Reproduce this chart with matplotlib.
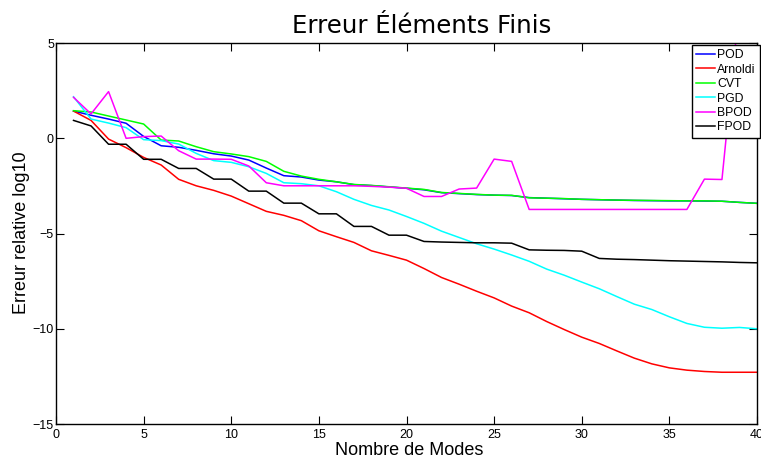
import matplotlib
matplotlib.use("Agg")
import matplotlib.pyplot as plt
import numpy as np

modes = list(range(1, 41))

pod = [1.43, 1.21, 1.01, 0.79, 0.10, -0.39, -0.47, -0.63, -0.81, -0.93,
       -1.14, -1.56, -1.96, -2.03, -2.19, -2.28, -2.43, -2.48, -2.55, -2.62,
       -2.70, -2.85, -2.90, -2.95, -2.98, -3.00, -3.11, -3.14, -3.17, -3.20,
       -3.22, -3.24, -3.26, -3.27, -3.28, -3.28, -3.29, -3.30, -3.36, -3.41]

arnoldi = [1.43, 0.94, -0.04, -0.49, -1.00, -1.40, -2.15, -2.49, -2.73, -3.03,
           -3.43, -3.83, -4.04, -4.32, -4.85, -5.16, -5.46, -5.90, -6.14, -6.39,
           -6.83, -7.30, -7.65, -8.02, -8.37, -8.80, -9.15, -9.61, -10.03, -10.43,
           -10.76, -11.15, -11.53, -11.83, -12.04, -12.16, -12.23, -12.27, -12.27, -12.27]

cvt = [1.45, 1.38, 1.17, 0.96, 0.75, -0.09, -0.14, -0.44, -0.70, -0.82,
       -0.96, -1.21, -1.73, -1.98, -2.15, -2.28, -2.42, -2.47, -2.54, -2.61,
       -2.68, -2.84, -2.89, -2.94, -2.98, -2.99, -3.12, -3.14, -3.16, -3.20,
       -3.22, -3.24, -3.25, -3.26, -3.27, -3.28, -3.28, -3.30, -3.36, -3.41]

pgd = [2.18, 1.01, 0.80, 0.56, -0.07, -0.12, -0.30, -0.79, -1.17, -1.26,
       -1.49, -1.84, -2.33, -2.38, -2.49, -2.80, -3.20, -3.52, -3.76, -4.10,
       -4.46, -4.87, -5.20, -5.53, -5.81, -6.12, -6.45, -6.86, -7.18, -7.54,
       -7.89, -8.30, -8.70, -8.98, -9.36, -9.71, -9.91, -9.96, -9.92, -9.99]

bpod = [2.15, 1.28, 2.45, 0.00, 0.09, 0.12, -0.65, -1.09, -1.09, -1.10,
        -1.45, -2.33, -2.49, -2.49, -2.49, -2.49, -2.49, -2.52, -2.56, -2.62,
        -3.05, -3.05, -2.66, -2.61, -1.09, -1.21, -3.73, -3.73, -3.73, -3.73,
        -3.73, -3.73, -3.73, -3.73, -3.73, -3.73, -2.14, -2.16, 7.0, 7.5]

fpod = [0.94, 0.65, -0.31, -0.31, -1.10, -1.10, -1.58, -1.58, -2.14, -2.14,
        -2.77, -2.77, -3.40, -3.40, -3.96, -3.96, -4.62, -4.62, -5.08, -5.08,
        -5.41, -5.44, -5.46, -5.48, -5.48, -5.50, -5.85, -5.87, -5.88, -5.92,
        -6.30, -6.34, -6.36, -6.39, -6.42, -6.44, -6.46, -6.48, -6.51, -6.53]

series = [("POD", pod, (0, 0, 1)),
          ("Arnoldi", arnoldi, (1, 0, 0)),
          ("CVT", cvt, (0, 1, 0)),
          ("PGD", pgd, (0, 1, 1)),
          ("BPOD", bpod, (1, 0, 1)),
          ("FPOD", fpod, (0, 0, 0))]

xticks = [0, 5, 10, 15, 20, 25, 30, 35, 40]
yticks = [-15, -10, -5, 0, 5]

W, H = 761, 459
fig = plt.figure(figsize=(W / 100, H / 100), dpi=100)
ax = fig.add_axes([56 / W, 1 - 424.3 / H, (757 - 56) / W, (424.3 - 43) / H])

for name, vals, col in series:
    ax.plot(modes, vals, color=col, lw=1.1, label=name)

ax.set_xlim(0, 40)
ax.set_ylim(-15, 5)
ax.set_xticks(xticks)
ax.set_yticks(yticks)
ax.set_xticklabels([str(v) for v in xticks])
ax.set_yticklabels(["\u2212" + str(-v) if v < 0 else str(v) for v in yticks])
ax.tick_params(direction="in", length=6, width=0.8, top=True, right=True,
               labelsize=9, colors="black")
ax.tick_params(axis="x", pad=3.5)
ax.tick_params(axis="y", pad=1.5)
for lab in ax.get_xticklabels() + ax.get_yticklabels():
    lab.set_fontfamily("Liberation Sans")
for s in ax.spines.values():
    s.set_linewidth(1.0)

fig.text(422 / W, 1 - 32.7 / H, "Erreur \u00c9l\u00e9ments Finis", ha="center",
         va="baseline", fontsize=17.6, family="DejaVu Sans")
fig.text(409 / W, 1 - 455 / H, "Nombre de Modes", ha="center", va="baseline",
         fontsize=13, family="Liberation Sans")
fig.text(22 / W, 1 - 233 / H, "Erreur relative log10", ha="center", va="center",
         rotation=90, fontsize=13, family="Liberation Sans")

leg = ax.legend(loc="upper right", bbox_to_anchor=(760 / W, 1 - 45 / H),
                bbox_transform=fig.transFigure, borderaxespad=0,
                prop={"family": "Liberation Sans", "size": 8.8},
                handlelength=1.6, handletextpad=0.15, labelspacing=0.2,
                borderpad=0.35, fancybox=False, framealpha=1, edgecolor="black")
leg.get_frame().set_linewidth(1.0)

fig.savefig("out.png", dpi=100)
